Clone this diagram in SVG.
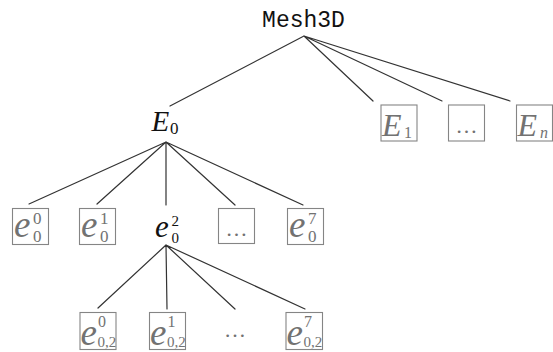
<svg xmlns="http://www.w3.org/2000/svg" width="553" height="352" viewBox="0 0 553 352">
<style>
.edge{stroke:#333;stroke-width:1.2;fill:none;stroke-linecap:round}
.box{fill:#fff;stroke:#858585;stroke-width:1.1}
.m{font-family:"Liberation Serif","DejaVu Serif",serif;font-style:italic}
.n{font-family:"Liberation Serif","DejaVu Serif",serif;font-style:normal}
.g{fill:#727272}
.k{fill:#111}
.mono{font-family:"Liberation Mono","DejaVu Sans Mono",monospace;fill:#111}
</style>
<rect width="553" height="352" fill="#fff"/>
<g id="connectors">
<path class="edge" d="M304 36L170 106M304 36L373 101M304 36L442 101M304 36L510 101"/>
<path class="edge" d="M166 142L29 204M166 142L97 204M166 142L166 205M166 142L235 205M166 142L303 205"/>
<path class="edge" d="M166 245L98 308M166 245L167 309M166 245L235 309M166 245L305 309"/>
</g>
<g id="mesh3d"><text class="mono" x="303.5" y="27" font-size="23" text-anchor="middle">Mesh3D</text></g>
<g id="E0"><text class="m k" x="151.5" y="131" font-size="29">E</text><text class="n k" x="170" y="133.5" font-size="17">0</text></g>
<g id="E1"><rect class="box" x="381" y="105" width="36" height="36"/><text class="m g" x="382" y="136" font-size="32">E</text><text class="n g" x="404" y="137.5" font-size="16">1</text></g>
<g id="Edots"><rect class="box" x="448.5" y="105" width="36" height="36"/><text class="n g" x="466.5" y="133" font-size="22" text-anchor="middle">…</text></g>
<g id="En"><rect class="box" x="516.5" y="105" width="36" height="36"/><text class="m g" x="517.5" y="136" font-size="32">E</text><text class="m g" x="540" y="137.5" font-size="16">n</text></g>
<g id="e00"><rect class="box" x="12.5" y="208.5" width="36" height="36"/><text class="m g" x="14" y="237" font-size="37">e</text><text class="n g" x="33" y="223.5" font-size="17">0</text><text class="n g" x="33" y="242" font-size="17">0</text></g>
<g id="e01"><rect class="box" x="79.5" y="208.5" width="36" height="36"/><text class="m g" x="81" y="237" font-size="37">e</text><text class="n g" x="100" y="223.5" font-size="17">1</text><text class="n g" x="100" y="242" font-size="17">0</text></g>
<g id="e02"><text class="m k" x="155" y="236.5" font-size="31">e</text><text class="n k" x="171.5" y="226" font-size="15">2</text><text class="n k" x="171.5" y="242.5" font-size="15">0</text></g>
<g id="e0dots"><rect class="box" x="218.5" y="208.5" width="36" height="35"/><text class="n g" x="236.5" y="236" font-size="22" text-anchor="middle">…</text></g>
<g id="e07"><rect class="box" x="287.5" y="208.5" width="36" height="36"/><text class="m g" x="289" y="237" font-size="37">e</text><text class="n g" x="308" y="223.5" font-size="17">7</text><text class="n g" x="308" y="242" font-size="17">0</text></g>
<g id="e020"><rect class="box" x="80" y="312.5" width="36" height="37"/><text class="m g" x="80.5" y="345" font-size="37">e</text><text class="n g" x="98" y="326.5" font-size="16">0</text><text class="n g" x="97.5" y="346.5" font-size="15">0,2</text></g>
<g id="e021"><rect class="box" x="149.5" y="312.5" width="36" height="37"/><text class="m g" x="150" y="345" font-size="37">e</text><text class="n g" x="167.5" y="326.5" font-size="16">1</text><text class="n g" x="167" y="346.5" font-size="15">0,2</text></g>
<g id="e02dots"><text class="n g" x="235" y="337" font-size="22" text-anchor="middle">…</text></g>
<g id="e027"><rect class="box" x="286" y="312.5" width="36.5" height="37"/><text class="m g" x="286.5" y="345" font-size="37">e</text><text class="n g" x="304" y="326.5" font-size="16">7</text><text class="n g" x="303.5" y="346.5" font-size="15">0,2</text></g>
</svg>
